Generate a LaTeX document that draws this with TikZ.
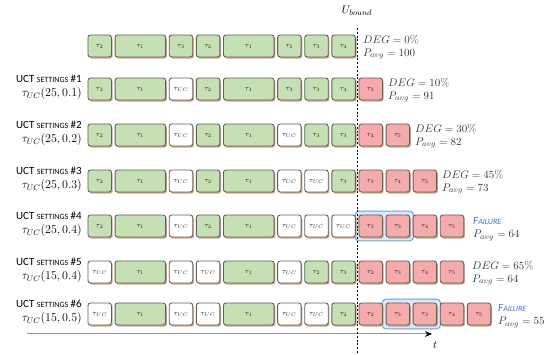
\documentclass[tikz,border=0pt]{standalone}
\usepackage{amsmath,amssymb}
\usepackage{fontspec}
\setsansfont{Carlito}
\usepackage{tikz}
\usetikzlibrary{shadows,fit,backgrounds,arrows.meta}

\definecolor{taskgreen}{HTML}{C5E0B4}
\definecolor{taskred}{HTML}{F5ABAB}
\definecolor{boxgray}{HTML}{5F5F5F}
\definecolor{shadowtan}{HTML}{CFA883}
\definecolor{hifill}{HTML}{DCE8F5}
\definecolor{hiblue}{HTML}{6FA3DA}
\definecolor{failblue}{HTML}{4472C4}
\definecolor{textgray}{HTML}{383838}

\tikzset{
    task/.style={draw=boxgray, line width=0.9pt, rounded corners=2.5pt, anchor=west,
        minimum height=22pt, inner sep=0pt, font=\scriptsize, text=black!85,
        drop shadow={shadow xshift=1.2pt, shadow yshift=-1.6pt, fill=shadowtan, opacity=1}},
    setting/.style={anchor=east, align=right, inner sep=0pt,
        font=\sffamily\fontsize{11}{15}\selectfont},
    stats/.style={anchor=west, align=left, inner sep=0pt, text=textgray,
        font=\fontsize{11}{13}\selectfont},
    hilite/.style={draw=hiblue, fill=hifill, line width=1pt, rounded corners=4pt, inner sep=3.5pt},
    bound/.style={line width=1pt, dash pattern=on 2pt off 1.8pt},
    timeline/.style={line width=1pt, draw=gray!80, -{Stealth[length=7pt, width=6pt, black]}}
}

\newcommand{\TaskRow}[3]{%
    \foreach \pos/\col/\lab/\wid in {#3}
        \node[task, fill=\col, minimum width={23.5pt+27.1pt*(\wid-1)}]
            (#1-\pos) at ({87.5+27.1*\pos},#2) {$\tau_{\lab}$};%
}
\newcommand{\Setting}[4]{%
    \node[setting] (#1) at (82,#2)
        {UCT {\fontsize{8}{10}\selectfont SETTINGS} \##3\\[-1pt]
         {\fontsize{12}{14}\selectfont$\tau_{UC}(#4)$}};%
}
\newcommand{\Failure}{{\color{failblue}\sffamily\itshape F{\fontsize{8}{10}\selectfont AILURE}}}

\begin{document}
\begin{tikzpicture}[x=1pt,y=-1pt]
        \useasboundingbox (0,0) rectangle (550,355);

        \TaskRow{r0}{46}{0/taskgreen/2/1, 1/taskgreen/1/2, 3/taskgreen/3/1, 4/taskgreen/2/1,
            5/taskgreen/1/2, 7/taskgreen/5/1, 8/taskgreen/3/1, 9/taskgreen/4/1}
        \TaskRow{r1}{89}{0/taskgreen/2/1, 1/taskgreen/1/2, 3/white/UC/1, 4/taskgreen/2/1,
            5/taskgreen/1/2, 7/taskgreen/3/1, 8/taskgreen/3/1, 9/taskgreen/4/1, 10/taskred/5/1}
        \TaskRow{r2}{135}{0/taskgreen/2/1, 1/taskgreen/1/2, 3/white/UC/1, 4/taskgreen/2/1,
            5/taskgreen/1/2, 7/white/UC/1, 8/taskgreen/3/1, 9/taskgreen/3/1,
            10/taskred/4/1, 11/taskred/5/1}
        \TaskRow{r3}{181}{0/taskgreen/2/1, 1/taskgreen/1/2, 3/white/UC/1, 4/taskgreen/2/1,
            5/taskgreen/1/2, 7/white/UC/1, 8/white/UC/1, 9/taskgreen/3/1,
            10/taskred/3/1, 11/taskred/4/1, 12/taskred/5/1}
        \TaskRow{r4}{226}{0/taskgreen/2/1, 1/taskgreen/1/2, 3/white/UC/1, 4/taskgreen/2/1,
            5/taskgreen/1/2, 7/white/UC/1, 8/white/UC/1, 9/white/UC/1,
            10/taskred/3/1, 11/taskred/3/1, 12/taskred/4/1, 13/taskred/5/1}
        \TaskRow{r5}{272}{0/white/UC/1, 1/taskgreen/1/2, 3/white/UC/1, 4/white/UC/1,
            5/taskgreen/1/2, 7/white/UC/1, 8/taskgreen/2/1, 9/taskgreen/3/1,
            10/taskred/2/1, 11/taskred/3/1, 12/taskred/4/1, 13/taskred/5/1}
        \TaskRow{r6}{314}{0/white/UC/1, 1/taskgreen/1/2, 3/white/UC/1, 4/white/UC/1,
            5/taskgreen/1/2, 7/white/UC/1, 8/white/UC/1, 9/taskgreen/2/1,
            10/taskred/2/1, 11/taskred/3/1, 12/taskred/3/1, 13/taskred/4/1, 14/taskred/5/1}

        \begin{scope}[on background layer]
            \node[hilite, fit=(r4-10)(r4-11)] (fail4) {};
            \node[hilite, fit=(r6-11)(r6-12)] (fail6) {};
        \end{scope}

        \Setting{set1}{87.5}{1}{25, 0.1}
        \Setting{set2}{133.5}{2}{25, 0.2}
        \Setting{set3}{179.5}{3}{25, 0.3}
        \Setting{set4}{224.5}{4}{25, 0.4}
        \Setting{set5}{270.5}{5}{15, 0.4}
        \Setting{set6}{312.5}{6}{15, 0.5}

        \node[stats] (deg0) at (363,47) {$DEG = 0\%$\\$P_{avg} = 100$};
        \node[stats] (deg1) at (388,90) {$DEG = 10\%$\\$P_{avg} = 91$};
        \node[stats] (deg2) at (415,136) {$DEG = 30\%$\\$P_{avg} = 82$};
        \node[stats] (deg3) at (442,182) {$DEG = 45\%$\\$P_{avg} = 73$};
        \node[stats] (deg4) at (473,229) {\Failure\\$P_{avg} = 64$};
        \node[stats] (deg5) at (472,273) {$DEG = 65\%$\\$P_{avg} = 64$};
        \node[stats] (deg6) at (498,316) {\Failure\\$P_{avg} = 55$};

        \coordinate (tstart) at (27,334);
        \coordinate (tend) at (432,334);
        \draw[timeline] (tstart) -- (tend);
        \node[font=\fontsize{11}{13}\selectfont] (tlabel) at (435,345) {$t$};

        \node[font=\fontsize{11}{13}\selectfont] (ubound) at (357,11) {$U_{bound}$};
        \coordinate (ubtop) at (357,28);
        \coordinate (ubbot) at (357,355);
        \draw[bound] (ubtop) -- (ubbot);
\end{tikzpicture}
\end{document}
